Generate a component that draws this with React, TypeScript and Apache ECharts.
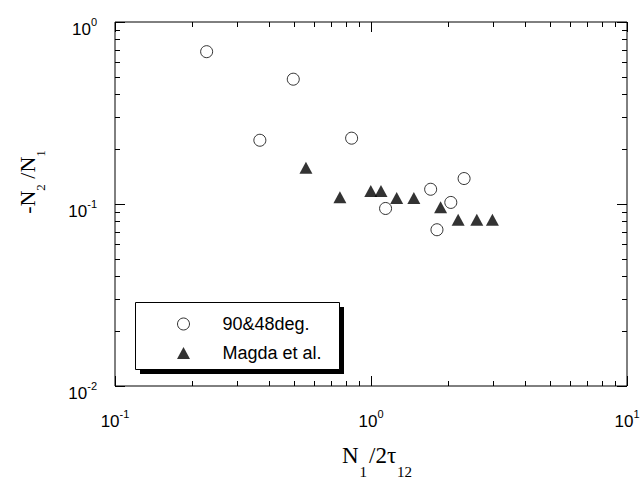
import React, { useEffect, useRef } from "react";
import * as echarts from "echarts";

const seriesNames = ["90&48deg.", "Magda et al."];
const circleX = [0.228, 0.368, 0.497, 0.84, 1.14, 1.71, 1.81, 2.05, 2.31];
const circleY = [0.687, 0.224, 0.485, 0.23, 0.0945, 0.1205, 0.0722, 0.102, 0.138];
const triX = [0.557, 0.756, 0.998, 1.094, 1.26, 1.47, 1.87, 2.19, 2.59, 2.98];
const triY = [0.158, 0.109, 0.118, 0.118, 0.108, 0.108, 0.096, 0.082, 0.082, 0.082];

const xRange = [0.1, 10];
const yRange = [0.01, 1];
const xMajorTicks = [0.1, 1, 10];
const xMinorTicks = [0.2, 0.3, 0.4, 0.5, 0.6, 0.7, 0.8, 0.9, 2, 3, 4, 5, 6, 7, 8, 9];
const yMajorTicks = [0.01, 0.1, 1];
const yMinorTicks = [0.02, 0.03, 0.04, 0.05, 0.06, 0.07, 0.08, 0.09, 0.2, 0.3, 0.4, 0.5, 0.6, 0.7, 0.8, 0.9];

const xName = "{n|N}{s|1}{n|/2τ}{s|12}";
const yName = "{n|-N}{s|2}{n| /N}{s|1}";

const expLabel = (v: number) => `{b|10}{s|${Math.round(Math.log10(v))}}`;

const xLabelRich = {
  b: { fontSize: 17, lineHeight: 26, verticalAlign: "middle", padding: [8, 0, 0, 0], fontFamily: "Liberation Sans", color: "#000" },
  s: { fontSize: 11, verticalAlign: "top", padding: [4, 0, 0, 0], fontFamily: "Liberation Sans", color: "#000" },
};
const yLabelRich = {
  b: { fontSize: 17, lineHeight: 26, verticalAlign: "middle", padding: [14, 0, 0, 0], fontFamily: "Liberation Sans", color: "#000" },
  s: { fontSize: 11, verticalAlign: "top", padding: [7, 0, 0, 0], fontFamily: "Liberation Sans", color: "#000" },
};

const TRI_ICON = "path://M6.5,0L13,12L0,12Z";

const tickAxis = (type: "x" | "y", position: string, values: number[], len: number) => ({
  type: "log",
  logBase: 10,
  position,
  min: type === "x" ? xRange[0] : yRange[0],
  max: type === "x" ? xRange[1] : yRange[1],
  axisLine: { show: false },
  axisLabel: { show: false },
  splitLine: { show: false },
  axisTick: { show: true, inside: true, length: len, customValues: values, lineStyle: { color: "#000", width: 1 } },
});

export default function App() {
  const ref = useRef<HTMLDivElement>(null);
  useEffect(() => {
    if (!ref.current) return;
    const chart = echarts.init(ref.current, null, { renderer: "svg" });
    chart.setOption({
      animation: false,
      backgroundColor: "#fff",
      grid: {
        left: 115, right: 17, top: 22, bottom: 95,
        outerBoundsMode: "none", containLabel: false,
        show: true, borderColor: "#000", borderWidth: 1, backgroundColor: "transparent",
      },
      xAxis: [
        {
          type: "log",
          logBase: 10,
          position: "bottom",
          min: xRange[0],
          max: xRange[1],
          axisLine: { show: false },
          splitLine: { show: false },
          axisTick: { show: true, inside: true, length: 10, customValues: xMajorTicks, lineStyle: { color: "#000", width: 1 } },
          axisLabel: { formatter: expLabel, rich: xLabelRich, margin: 18 },
          name: xName,
          nameLocation: "middle",
          nameGap: 58,
          nameTextStyle: {
            padding: [0, 0, 0, 14],
            rich: {
              n: { fontSize: 23, lineHeight: 35, verticalAlign: "top", fontFamily: "Liberation Serif", color: "#000" },
              s: { fontSize: 15, verticalAlign: "bottom", padding: [0, 2, 0, 1], fontFamily: "Liberation Serif", color: "#000" },
            },
          },
        },
        tickAxis("x", "bottom", xMinorTicks, 5),
        tickAxis("x", "top", xMajorTicks, 10),
        tickAxis("x", "top", xMinorTicks, 5),
      ],
      yAxis: [
        {
          type: "log",
          logBase: 10,
          position: "left",
          min: yRange[0],
          max: yRange[1],
          axisLine: { show: false },
          splitLine: { show: false },
          axisTick: { show: true, inside: true, length: 10, customValues: yMajorTicks, lineStyle: { color: "#000", width: 1 } },
          axisLabel: { formatter: expLabel, rich: yLabelRich, margin: 18 },
          name: yName,
          nameLocation: "middle",
          nameGap: 68,
          nameRotate: 90,
          nameTextStyle: {
            padding: [0, 0, 0, 44],
            rich: {
              n: { fontSize: 22, lineHeight: 31, verticalAlign: "top", fontFamily: "Liberation Serif", color: "#000" },
              s: { fontSize: 13, verticalAlign: "bottom", fontFamily: "Liberation Serif", color: "#000" },
            },
          },
        },
        tickAxis("y", "left", yMinorTicks, 5),
        tickAxis("y", "right", yMajorTicks, 10),
        tickAxis("y", "right", yMinorTicks, 5),
      ],
      legend: {
        orient: "vertical",
        left: 177,
        top: 315,
        padding: 0,
        itemWidth: 68,
        itemHeight: 12,
        itemGap: 11,
        selectedMode: false,
        symbolKeepAspect: true,
        textStyle: { fontSize: 18, lineHeight: 18, fontFamily: "Liberation Sans", color: "#000" },
        data: [
          { name: seriesNames[0], icon: "circle", itemStyle: { borderWidth: 1, borderColor: "#000", color: "#fff" } },
          { name: seriesNames[1], icon: TRI_ICON, itemStyle: { borderWidth: 0, color: "#000" } },
        ],
      },
      graphic: [
        { type: "rect", shape: { x: 140, y: 307, width: 204, height: 67 }, style: { fill: "#000" }, z: -2 },
        { type: "rect", shape: { x: 135.5, y: 302.5, width: 204, height: 67 }, style: { fill: "#fff", stroke: "#000", lineWidth: 1 }, z: -1 },
      ],
      series: [
        {
          name: seriesNames[0],
          type: "scatter",
          symbol: "circle",
          symbolSize: 12,
          xAxisIndex: 0,
          yAxisIndex: 0,
          itemStyle: { color: "#fff", borderColor: "#000", borderWidth: 1 },
          data: circleX.map((x, i) => [x, circleY[i]]),
          z: 5,
        },
        {
          name: seriesNames[1],
          type: "scatter",
          symbol: "triangle",
          symbolSize: [13, 12],
          xAxisIndex: 0,
          yAxisIndex: 0,
          itemStyle: { color: "#000" },
          data: triX.map((x, i) => [x, triY[i]]),
          z: 5,
        },
      ],
    });
    return () => chart.dispose();
  }, []);
  return <div ref={ref} style={{ position: "fixed", left: 0, top: 0, width: 644, height: 481 }} />;
}
